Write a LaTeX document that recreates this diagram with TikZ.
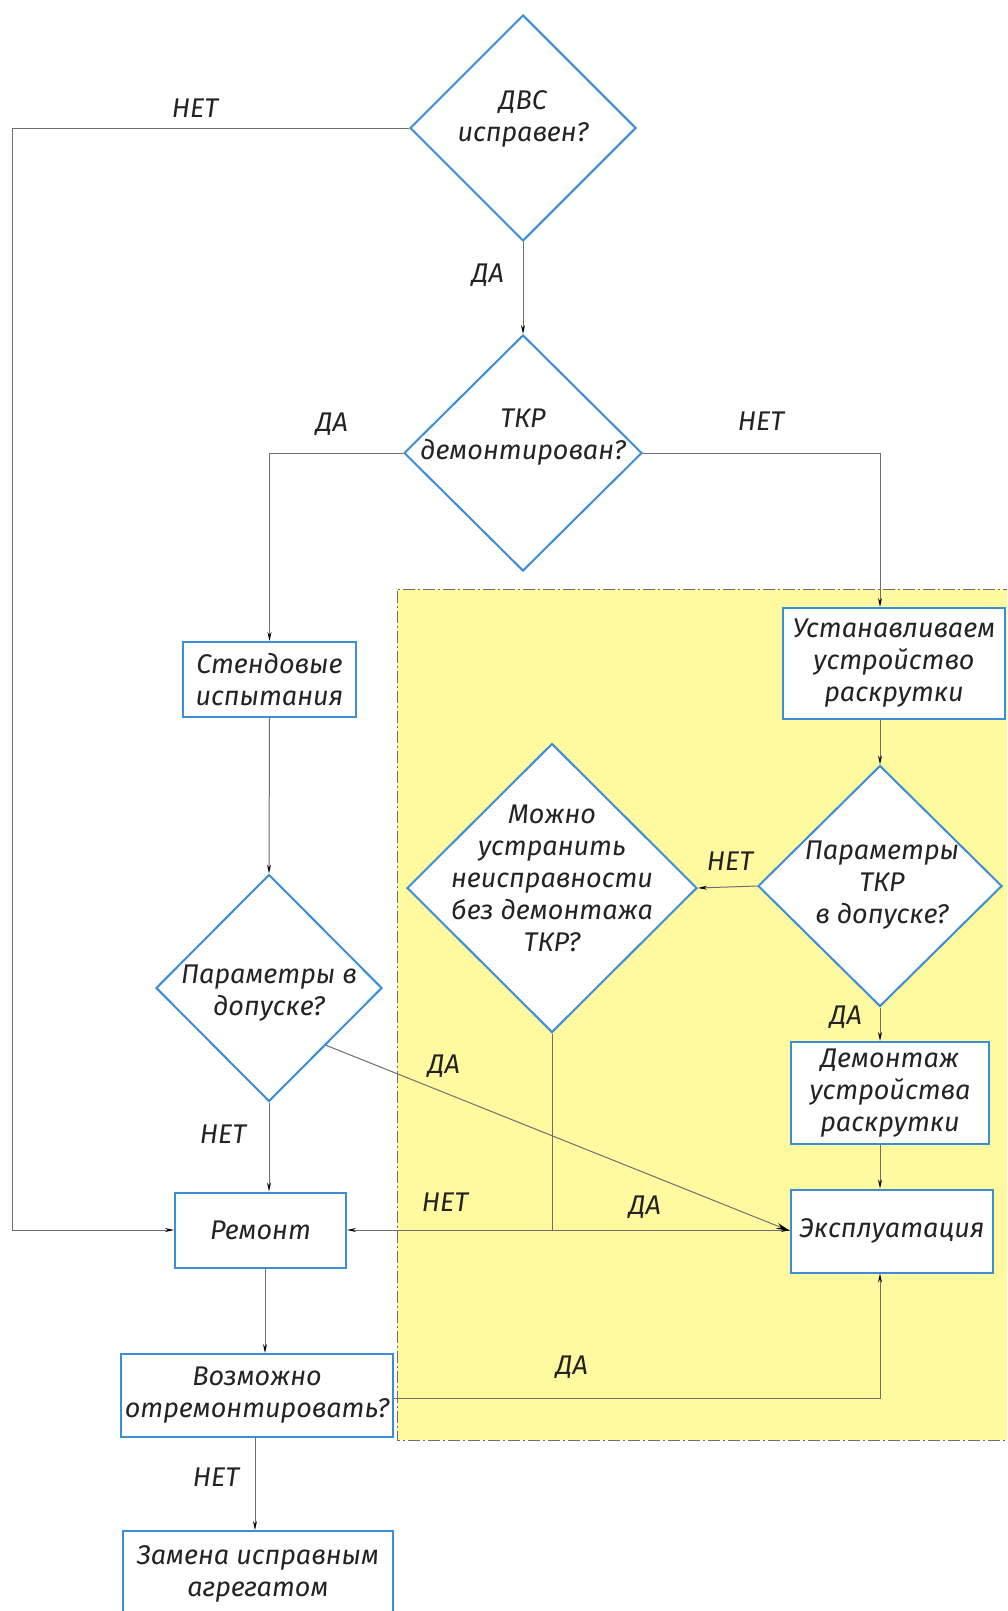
\documentclass[tikz,border=0pt]{standalone}
\usepackage{fontspec}
\setmainfont{Fira Sans}
\usetikzlibrary{shapes.geometric,arrows.meta}
\definecolor{boxblue}{RGB}{60,140,215}
\definecolor{yel}{RGB}{255,250,160}
\definecolor{lin}{RGB}{110,110,110}
\definecolor{txt}{RGB}{35,35,35}
\begin{document}
\begin{tikzpicture}[x=1pt,y=-1pt,
  every node/.style={font=\fontsize{27}{32}\selectfont\itshape, text=txt},
  box/.style={draw=boxblue,line width=2pt,fill=white,rectangle,inner sep=0pt,align=center},
  dia/.style={draw=boxblue,line width=2pt,fill=white,diamond,inner sep=0pt},
  dtext/.style={align=center,inner sep=0pt},
  conn/.style={draw=lin,line width=1pt},
  arr/.style={conn,-{Stealth[length=9pt,width=4pt,color=black]}},
  lbl/.style={inner sep=0pt}]
\useasboundingbox (0,0) rectangle (1007,1611);
\clip (0,0) rectangle (1007,1611);
\fill[white] (0,0) rectangle (1007,1611);
% yellow area
\fill[yel] (397,589) rectangle (1015,1440);
\draw[lin,line width=0.8pt,dash pattern=on 12pt off 3pt on 2pt off 3pt] (1015,589) -- (397,589) -- (397,1440) -- (1015,1440);

% diamonds
\node[dia,minimum width=226pt,minimum height=226pt] (d1) at (523,128) {};
\node[dtext] (d1t) at (523,119) {ДВС\\исправен?};
\node[dia,minimum width=238pt,minimum height=236pt] (d2) at (523,453) {};
\node[dtext] (d2t) at (523,437) {ТКР\\демонтирован?};
\node[dia,minimum width=290pt,minimum height=289pt] (d3) at (552,888) {};
\node[dtext] (d3t) at (552,878) {Можно\\устранить\\неисправности\\без демонтажа\\ТКР?};
\node[dia,minimum width=244pt,minimum height=241pt] (d4) at (880,886) {};
\node[dtext] (d4t) at (882,885) {Параметры\\ТКР\\в допуске?};
\node[dia,minimum width=226pt,minimum height=227pt] (d5) at (269,988) {};
\node[dtext] (d5t) at (269,993) {Параметры в\\допуске?};

% boxes
\node[box,minimum width=173pt,minimum height=75pt] (sten) at (269.5,679.5) {Стендовые\\испытания};
\node[box,minimum width=222pt,minimum height=111pt] (ust) at (894,663.5) {Устанавливаем\\устройство\\раскрутки};
\node[box,minimum width=198pt,minimum height=102pt] (dem) at (890,1093) {Демонтаж\\устройства\\раскрутки};
\node[box,minimum width=202pt,minimum height=83pt] (expl) at (892,1231) {Эксплуатация};
\node[box,minimum width=171pt,minimum height=75pt] (rem) at (260.5,1230) {Ремонт};
\node[box,minimum width=272pt,minimum height=83pt] (voz) at (257,1395.5) {Возможно\\отремонтировать?};
\node[box,minimum width=270pt,minimum height=86pt] (zam) at (258,1574) {Замена исправным\\агрегатом};

\coordinate (jn) at (552,1230);
\coordinate (lft) at (12,128);

% connectors
\draw[arr] (d1.west) -- (lft) |- (rem.west);
\draw[arr] (d1.south) -- (d2.north);
\draw[arr] (d2.west) -| (sten.north);
\draw[arr] (d2.east) -| (ust.north -| d4.north);
\draw[arr] (ust.south -| d4.north) -- (d4.north);
\draw[arr] (d4.west) -- (d3.east);
\draw[arr] (d4.south) -- (dem.north -| d4.south);
\draw[arr] (dem.south -| d4.south) -- (expl.north -| d4.south);
\draw[arr] (sten.south) -- (d5.north);
\draw[arr] (d5.south) -- (rem.north -| d5.south);
\draw[arr,-{Stealth[length=14pt,width=6pt,color=black]}] (d5.south east) -- (expl.west);
\draw[conn] (d3.south) -- (jn);
\draw[arr] (jn) -- (rem.east);
\draw[arr] (jn) -- (expl.west |- jn);
\draw[arr] (rem.south -| 265,0) -- (voz.north -| 265,0);
\draw[arr] (voz.east |- 0,1398) -| (expl.south -| d4.south);
\draw[arr] (voz.south -| 255,0) -- (zam.north -| 255,0);

% labels
\node[lbl] (l1) at (195,108) {НЕТ};
\node[lbl] (l2) at (488,275) {ДА};
\node[lbl] (l3) at (332,424) {ДА};
\node[lbl] (l4) at (761,421) {НЕТ};
\node[lbl] (l5) at (730,861) {НЕТ};
\node[lbl] (l6) at (846,1017) {ДА};
\node[lbl] (l7) at (444,1066) {ДА};
\node[lbl] (l8) at (223,1134) {НЕТ};
\node[lbl] (l9) at (445,1202) {НЕТ};
\node[lbl] (l10) at (645,1207) {ДА};
\node[lbl] (l11) at (572,1367) {ДА};
\node[lbl] (l12) at (216,1477) {НЕТ};
\end{tikzpicture}
\end{document}
